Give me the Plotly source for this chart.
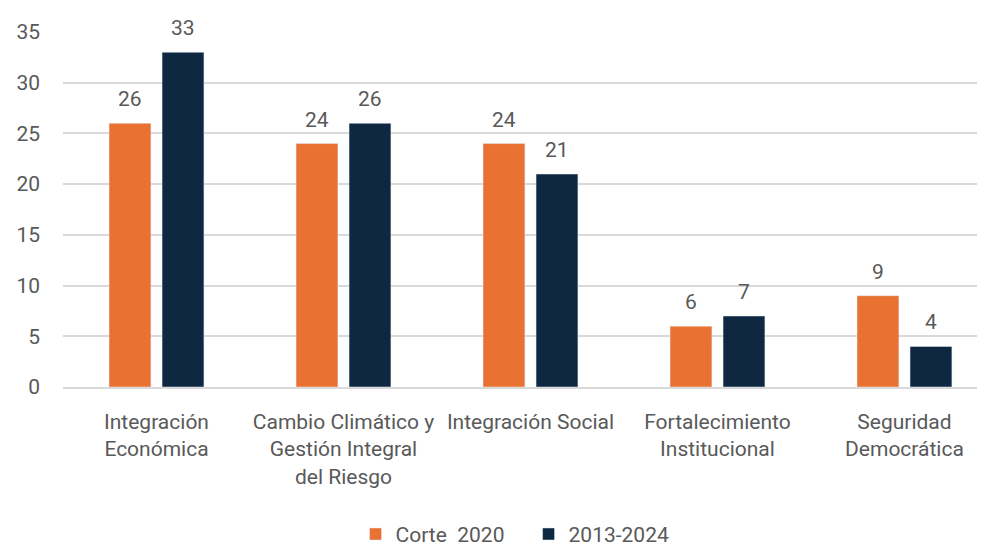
import plotly.graph_objects as go

# datos
categorias = [
    "Integración<br>Económica",
    "Cambio Climático y<br>Gestión Integral<br>del Riesgo",
    "Integración Social",
    "Fortalecimiento<br>Institucional",
    "Seguridad<br>Democrática",
]
corte_2020 = [26, 24, 24, 6, 9]
periodo_2013_2024 = [33, 26, 21, 7, 4]
nombres_series = ["Corte\u00a0 2020", "2013-2024"]

FUENTE = "Roboto, sans-serif"
GRIS = "#595959"

fig = go.Figure()

# barras naranjas
fig.add_trace(
    go.Bar(
        x=categorias,
        y=corte_2020,
        name=nombres_series[0],
        marker=dict(color="#E97132"),
    )
)

# barras azul oscuro
fig.add_trace(
    go.Bar(
        x=categorias,
        y=periodo_2013_2024,
        name=nombres_series[1],
        marker=dict(color="#0E2841"),
    )
)

# etiquetas de datos sobre cada barra
for serie, desplazamiento in [(corte_2020, -26.5), (periodo_2013_2024, 26.5)]:
    for cat, valor in zip(categorias, serie):
        fig.add_annotation(
            x=cat,
            y=valor,
            text=str(valor),
            showarrow=False,
            xshift=desplazamiento,
            yanchor="bottom",
            yshift=10,
            font=dict(size=21, color=GRIS, family=FUENTE),
        )

# el cuerpo de la página desplaza el gráfico 8 px
fig.update_layout(
    width=977,
    height=540,
    margin=dict(l=55, r=2, t=24, b=161, autoexpand=False),
    paper_bgcolor="white",
    plot_bgcolor="white",
    font=dict(family=FUENTE, size=21, color=GRIS),
    barmode="group",
    bargap=0.433,
    bargroupgap=0.21,
    showlegend=True,
    legend=dict(
        orientation="h",
        x=0.318,
        xanchor="left",
        y=-0.415,
        yanchor="middle",
        font=dict(size=21, color=GRIS),
        itemwidth=30,
        entrywidth=128,
    ),
)

fig.update_xaxes(
    range=[-0.5, 4.42],
    automargin=False,
    showgrid=False,
    showline=True,
    linecolor="#d9d9d9",
    linewidth=1.5,
    tickfont=dict(size=21, color=GRIS),
    ticks="",
    ticklabelstandoff=15,
)

fig.update_yaxes(
    range=[0, 35],
    dtick=5,
    automargin=False,
    showgrid=True,
    gridcolor="#d9d9d9",
    gridwidth=1.5,
    zeroline=False,
    showline=False,
    tickfont=dict(size=21, color=GRIS),
    ticklabelstandoff=22,
)

fig.write_html("out.html")
